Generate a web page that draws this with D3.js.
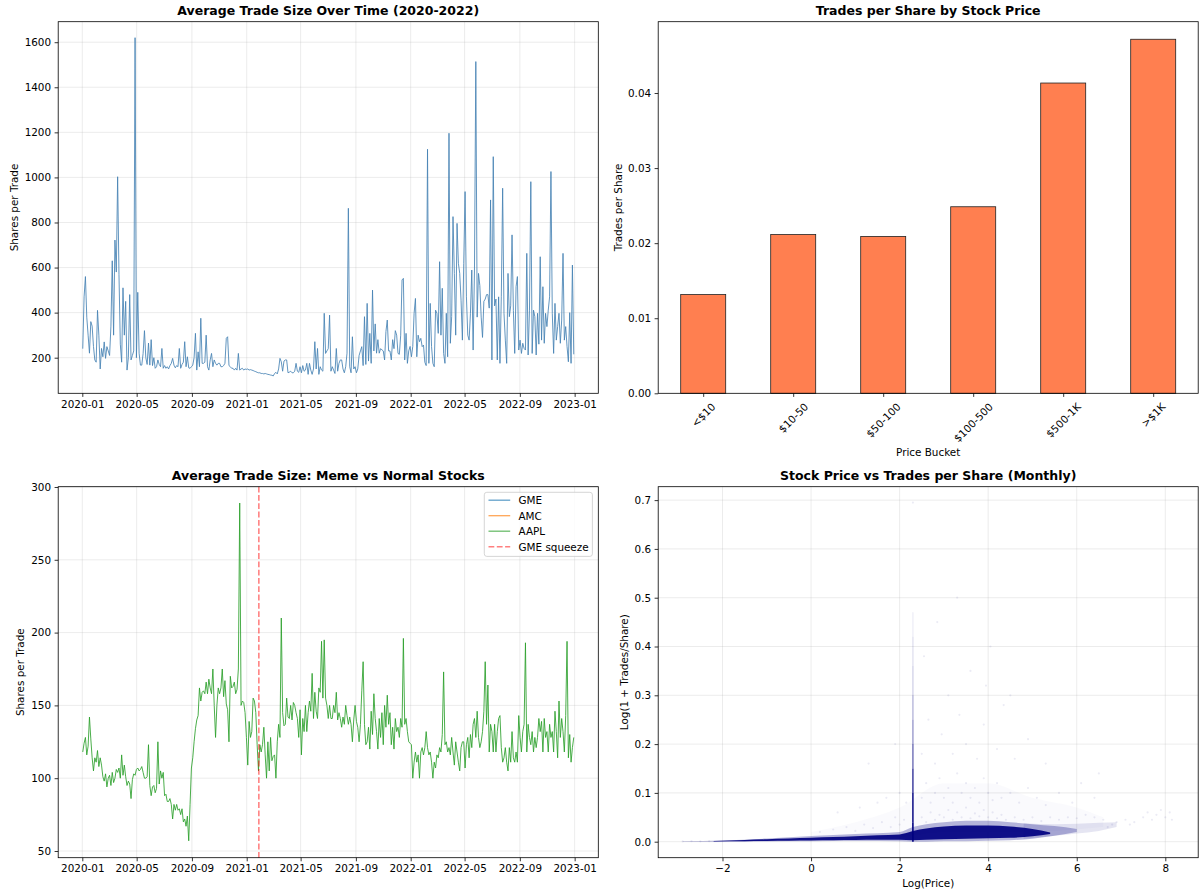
<!DOCTYPE html>
<html><head><meta charset="utf-8">
<script src="https://cdn.jsdelivr.net/npm/d3@7"></script>
<style>body{margin:0;background:#fff} svg{display:block} text{font-family:"DejaVu Sans",sans-serif}</style>
</head><body><svg id="c" width="1200" height="895"></svg>
<script>
// ---------------- DATA ----------------
const seriesStart = "2020-01-02", seriesEnd = "2022-12-30";
const avgTradeSize = [
240,470,560,380,300,220,360,340,250,190,
180,410,300,150,241,204,270,197,249,230,
210,340,630,300,722,580,1003,570,260,180,
510,300,450,145,200,480,190,210,230,1620,
200,490,220,167,167,219,320,200,170,265,
167,280,165,200,153,160,190,170,160,241,
153,165,153,160,150,165,175,197,167,155,
165,160,241,153,170,180,271,160,204,155,
153,160,167,200,308,145,226,160,375,175,
175,180,300,160,145,190,219,160,190,175,
167,175,175,160,160,165,175,286,293,165,
160,153,153,145,153,145,219,145,150,153,145,
150,148,150,145,147,145,143,140,138,135,
133,133,130,130,128,130,128,126,125,123,
122,119,130,135,128,150,197,182,140,185,
190,190,133,136,140,133,133,140,175,140,
135,160,133,165,140,145,175,126,175,145,
126,150,271,150,241,126,160,145,140,397,
219,230,240,389,140,160,145,130,241,140,
175,190,190,150,133,160,220,863,160,133,
293,150,160,133,150,210,230,249,165,382,
170,441,185,308,175,500,230,350,220,280,
220,240,235,230,190,316,367,230,230,190,
280,240,320,300,219,215,300,545,552,190,
308,175,230,
250,204,250,397,463,204,300,271,286,249,
256,180,165,1125,175,441,249,175,160,411,
397,308,626,300,508,219,175,397,204,1196,
264,382,826,574,300,796,619,574,455,278,
619,937,470,300,278,397,589,234,589,1514,
380,574,520,380,290,450,460,480,480,420,
900,190,1092,430,460,190,470,175,470,952,
397,278,175,574,382,430,745,410,219,515,
560,234,278,219,264,241,234,663,212,411,
981,219,411,382,212,397,260,648,278,515,
264,397,338,411,470,1026,397,219,441,278,
338,397,264,367,663,278,338,250,182,400,
175,611,215];

const gmeTradeSize = [];
const amcTradeSize = [];
const aaplTradeSize = [
118,124,128,116,122,142,127,114,105,114,
111,119,108,114,109,101,98,103,94,100,
102,95,104,97,100,106,104,107,100,116,
102,109,101,95,98,96,86,99,103,102,
106,107,105,106,108,104,100,100,101,123,
95,88,94,95,90,93,125,96,105,100,
104,88,89,84,84,86,82,72,82,78,
82,78,79,75,79,70,72,67,74,57,
82,107,114,125,134,140,143,162,153,159,
160,158,166,158,168,162,158,175,150,128,
150,162,158,162,175,156,167,151,147,125,
170,162,163,166,158,161,175,289,150,153,152,
145,128,109,139,128,132,155,153,145,123,
105,123,118,123,135,116,100,125,105,128,
112,115,116,100,125,137,128,210,145,136,
137,155,142,141,150,140,152,150,145,141,
128,147,116,141,132,150,132,145,153,146,
172,141,159,146,141,162,159,194,155,195,
155,150,141,150,141,141,150,145,159,140,
145,141,135,142,137,150,143,137,142,137,
125,140,150,139,135,125,137,160,180,137,
123,125,135,120,146,130,158,141,132,120,
141,128,145,123,150,135,157,137,145,123,
135,120,141,132,135,128,141,135,196,137,
141,132,125,
124,123,100,111,118,111,116,100,118,121,
116,121,132,121,116,118,111,100,111,107,
116,114,121,118,130,173,123,125,118,121,
116,128,118,109,125,118,111,105,121,125,
125,107,123,128,114,130,121,137,141,128,
146,128,121,125,132,146,180,137,164,118,
137,132,118,137,118,132,141,143,121,111,
114,121,111,105,121,111,132,114,111,118,
111,143,128,118,132,137,193,118,137,128,
123,132,118,128,121,128,141,132,139,118,
141,128,132,118,137,128,132,118,146,132,
114,153,128,141,132,118,143,194,114,130,
111,121,128];
const squeezeDate = "2021-01-28";
const legendLabels = ["GME","AMC","AAPL","GME squeeze"];

const priceBuckets = ["<$10","$10-50","$50-100","$100-500","$500-1K",">$1K"];
const tradesPerShare = [0.01315,0.02115,0.0209,0.02485,0.04133,0.04716];

// scatter (Log price vs log(1+trades/share)) : density envelopes + sparse points
const coreX  = [-2.2,-1.5,-1.0,-0.5,0.0,0.5,1.0,1.5,2.0,2.3,2.6,3.0,3.5,4.0,4.5,5.0,5.4];
const coreLo = [0.0006,0.001,0.0015,0.002,0.0025,0.003,0.0035,0.004,0.004,0.003,0.004,0.005,0.006,0.007,0.008,0.011,0.016];
const coreHi = [0.0015,0.0035,0.005,0.0065,0.008,0.0095,0.011,0.013,0.015,0.022,0.027,0.031,0.033,0.033,0.031,0.026,0.019];
const haloX  = [-2.9,-2.0,-1.0,0.0,1.0,2.0,2.3,2.6,3.0,3.5,4.0,4.5,5.0,5.5,6.0];
const haloLo = [0.0,0.0,0.0005,0.001,0.0015,0.001,0.0,0.0,0.001,0.001,0.002,0.003,0.006,0.012,0.02];
const haloHi = [0.0008,0.0025,0.0065,0.0115,0.016,0.02,0.03,0.036,0.04,0.043,0.043,0.04,0.036,0.032,0.026];
const tailX  = [4.8,5.5,6.0,6.5,6.9];
const tailLo = [0.006,0.012,0.017,0.022,0.03];
const tailHi = [0.038,0.036,0.037,0.039,0.04];
const fogX   = [0.0,1.0,2.0,3.0,4.0,5.0,6.0,6.6];
const fogLo  = [0.005,0.008,0.01,0.02,0.02,0.02,0.025,0.03];
const fogHi  = [0.02,0.04,0.07,0.12,0.12,0.09,0.07,0.05];
const spikeX = 2.3;
const spikeY0 = [0.0,0.04,0.1,0.15,0.2,0.25,0.3,0.36,0.42];
const spikeY1 = [0.04,0.1,0.15,0.2,0.25,0.3,0.36,0.42,0.47];
const spikeDensity = [1.0,0.9,0.7,0.5,0.35,0.25,0.15,0.1,0.06];
const sparseX = [0.2,0.5,0.8,1.0,1.2,1.4,1.6,1.8,1.9,2.0,2.1,2.5,2.6,2.7,2.8,2.9,3.0,3.1,3.2,3.3,3.4,3.5,3.6,3.7,3.8,3.9,4.0,4.1,4.2,4.3,4.4,4.6,4.8,5.0,5.2,5.4,5.6,5.8,6.0,6.2,6.4,6.6,
 0.6,1.1,1.5,1.7,2.0,2.15,2.5,2.6,2.7,2.8,2.9,3.0,3.1,3.2,3.3,3.4,3.5,3.6,3.7,3.8,3.9,4.0,4.1,4.2,4.3,4.5,4.7,4.9,5.1,5.3,5.6,5.9,6.1,6.4,6.5,
 1.3,1.9,2.5,2.65,2.8,2.95,3.1,3.2,3.35,3.5,3.6,3.75,3.9,4.05,4.2,4.35,4.6,4.9,5.3,3.3,2.85,3.95,2.55,4.5,
 6.7,6.9,7.1,7.3,7.5,7.6,7.8,7.9,8.0,8.1,8.15,7.7,7.2,6.8,
 -2.9,-2.7,-2.5,-2.3,2.3];
const sparseY = [0.02,0.025,0.03,0.022,0.035,0.028,0.04,0.03,0.05,0.035,0.045,0.05,0.04,0.06,0.045,0.055,0.05,0.065,0.045,0.06,0.05,0.07,0.048,0.058,0.052,0.065,0.05,0.06,0.048,0.055,0.045,0.05,0.045,0.05,0.042,0.05,0.045,0.05,0.048,0.055,0.05,0.045,
 0.06,0.07,0.08,0.09,0.1,0.08,0.09,0.12,0.08,0.1,0.13,0.09,0.11,0.08,0.14,0.1,0.12,0.09,0.11,0.08,0.13,0.1,0.085,0.12,0.09,0.1,0.08,0.11,0.09,0.075,0.1,0.08,0.12,0.09,0.14,
 0.16,0.2,0.18,0.25,0.16,0.22,0.3,0.18,0.26,0.2,0.35,0.17,0.24,0.4,0.19,0.28,0.17,0.21,0.16,0.5,0.45,0.32,0.38,0.3,
 0.03,0.04,0.045,0.04,0.05,0.06,0.055,0.065,0.05,0.06,0.045,0.045,0.035,0.035,
 0.0005,0.001,0.0008,0.001,0.695];

// ---------------- LAYOUT ----------------
const svg = d3.select("#c");
const TL={x0:58.2,x1:598.3,y0:21.7,y1:393.3}, TR={x0:658.2,x1:1198.2,y0:21.7,y1:393.3},
      BL={x0:58.2,x1:598.3,y0:486.7,y1:857.7}, BR={x0:658.2,x1:1198.2,y0:486.7,y1:857.7};
const FS=10.4, TFS=12.5;
const parse=d3.timeParse("%Y-%m-%d");

function datesFor(n){const a=parse(seriesStart).getTime(), b=parse(seriesEnd).getTime();
  return d3.range(n).map(i=>new Date(a+(b-a)*i/(n-1)));}

function clip(id,P){svg.append("clipPath").attr("id",id).append("rect")
  .attr("x",P.x0).attr("y",P.y0).attr("width",P.x1-P.x0).attr("height",P.y1-P.y0);}
function styleAxis(g){g.select(".domain").remove();
  g.attr("font-size",FS).attr("font-family","DejaVu Sans");
  g.selectAll("line").attr("stroke","#000").attr("stroke-width",0.8);
  g.selectAll("text").attr("fill","#000");}
function grid(P,xs,ys,xv,yv){const g=svg.append("g");
  if(xv) g.selectAll(".gx").data(xv).join("line").attr("x1",d=>xs(d)).attr("x2",d=>xs(d))
    .attr("y1",P.y0).attr("y2",P.y1).attr("stroke","#b0b0b0").attr("stroke-opacity",0.3).attr("stroke-width",0.8);
  if(yv) g.selectAll(".gy").data(yv).join("line").attr("y1",d=>ys(d)).attr("y2",d=>ys(d))
    .attr("x1",P.x0).attr("x2",P.x1).attr("stroke","#b0b0b0").attr("stroke-opacity",0.3).attr("stroke-width",0.8);}
function frame(P){svg.append("rect").attr("x",P.x0).attr("y",P.y0).attr("width",P.x1-P.x0).attr("height",P.y1-P.y0)
  .attr("fill","none").attr("stroke","#000").attr("stroke-width",0.8);}
function title(P,t){svg.append("text").attr("x",(P.x0+P.x1)/2).attr("y",P.y0-6.25).attr("text-anchor","middle")
  .attr("font-size",TFS).attr("font-weight","bold").text(t);}
function ylab(x,P,t){svg.append("text").attr("transform",`translate(${x},${(P.y0+P.y1)/2}) rotate(-90)`)
  .attr("text-anchor","middle").attr("dominant-baseline","central").attr("font-size",FS).text(t);}
function xlab(P,y,t){svg.append("text").attr("x",(P.x0+P.x1)/2).attr("y",y).attr("text-anchor","middle")
  .attr("font-size",FS).text(t);}
function axes(P,xs,ys,xt,yt,xf,yf){
  const gx=svg.append("g").attr("transform",`translate(0,${P.y1})`)
    .call(d3.axisBottom(xs).tickValues(xt).tickFormat(xf).tickSize(3.6).tickPadding(3.5).tickSizeOuter(0));
  styleAxis(gx);
  const gy=svg.append("g").attr("transform",`translate(${P.x0},0)`)
    .call(d3.axisLeft(ys).tickValues(yt).tickFormat(yf).tickSize(3.6).tickPadding(3.5).tickSizeOuter(0));
  styleAxis(gy);}

const dateTicks=d3.timeMonth.every(4).range(parse("2020-01-01"),parse("2023-01-02"));
function timeScale(P){const a=parse(seriesStart), b=parse(seriesEnd), m=(b-a)*0.05;
  return d3.scaleTime().domain([new Date(+a-m),new Date(+b+m)]).range([P.x0,P.x1]);}
const fmtDate=d3.timeFormat("%Y-%m");

// ---------------- PANEL 1: avg trade size ----------------
{
  const P=TL; clip("c1",P);
  const x=timeScale(P), y=d3.scaleLinear().domain([42,1691]).range([P.y1,P.y0]);
  const yt=d3.range(200,1601,200);
  grid(P,x,y,dateTicks,yt);
  const d=datesFor(avgTradeSize.length);
  svg.append("path").attr("clip-path","url(#c1)").datum(avgTradeSize)
    .attr("d",d3.line().x((v,i)=>x(d[i])).y(v=>y(v)))
    .attr("fill","none").attr("stroke","steelblue").attr("stroke-width",1).attr("stroke-opacity",0.85)
    .attr("stroke-linejoin","round");
  frame(P); axes(P,x,y,dateTicks,yt,fmtDate,d3.format("d"));
  title(P,"Average Trade Size Over Time (2020-2022)");
  ylab(13.8,P,"Shares per Trade");
}

// ---------------- PANEL 2: bars ----------------
{
  const P=TR;
  const x=d3.scaleLinear().domain([-0.5,5.5]).range([P.x0,P.x1]);
  const y=d3.scaleLinear().domain([0,0.0495]).range([P.y1,P.y0]);
  const bw=(x(0.5)-x(0));
  svg.append("g").selectAll("rect").data(tradesPerShare).join("rect")
    .attr("x",(v,i)=>x(i)-bw/2).attr("width",bw).attr("y",v=>y(v)).attr("height",v=>y(0)-y(v))
    .attr("fill","#FF7F50").attr("stroke","#222").attr("stroke-width",0.8);
  frame(P);
  const gx=svg.append("g").attr("transform",`translate(0,${P.y1})`)
    .call(d3.axisBottom(x).tickValues(d3.range(priceBuckets.length)).tickFormat("").tickSize(3.6).tickSizeOuter(0));
  styleAxis(gx);
  svg.append("g").selectAll("text").data(priceBuckets).join("text")
    .attr("font-size",FS).text(t=>t)
    .each(function(t,i){
      const w=this.getComputedTextLength(), h=FS*1.16, Hh=(w+h)*Math.SQRT1_2;
      d3.select(this).attr("text-anchor","middle").attr("dominant-baseline","central")
        .attr("transform",`translate(${x(i)},${P.y1+7.1+Hh/2}) rotate(-45)`);
    });
  const gy=svg.append("g").attr("transform",`translate(${P.x0},0)`)
    .call(d3.axisLeft(y).tickValues([0,0.01,0.02,0.03,0.04]).tickFormat(d3.format(".2f")).tickSize(3.6).tickPadding(3.5).tickSizeOuter(0));
  styleAxis(gy);
  title(P,"Trades per Share by Stock Price");
  xlab(P,456,"Price Bucket");
  ylab(617.6,P,"Trades per Share");
}

// ---------------- PANEL 3: meme vs normal ----------------
{
  const P=BL; clip("c3",P);
  const x=timeScale(P), y=d3.scaleLinear().domain([45.4,300.2]).range([P.y1,P.y0]);
  const yt=d3.range(50,301,50);
  grid(P,x,y,dateTicks,yt);
  const colors=["#1f77b4","#ff7f0e","#2ca02c"];
  [gmeTradeSize,amcTradeSize,aaplTradeSize].forEach((s,k)=>{
    if(!s.length) return;
    const d=datesFor(s.length);
    svg.append("path").attr("clip-path","url(#c3)").datum(s)
      .attr("d",d3.line().x((v,i)=>x(d[i])).y(v=>y(v)))
      .attr("fill","none").attr("stroke",colors[k]).attr("stroke-width",1).attr("stroke-opacity",0.85)
      .attr("stroke-linejoin","round");
  });
  const sx=x(parse(squeezeDate));
  svg.append("line").attr("x1",sx).attr("x2",sx).attr("y1",P.y0).attr("y2",P.y1)
    .attr("stroke","red").attr("stroke-opacity",0.5).attr("stroke-width",1.56).attr("stroke-dasharray","5.8,2.5");
  frame(P); axes(P,x,y,dateTicks,yt,fmtDate,d3.format("d"));
  title(P,"Average Trade Size: Meme vs Normal Stocks");
  ylab(20,P,"Shares per Trade");
  // legend
  const L={x:484.3,y:492.3,w:108.1,h:64.1};
  svg.append("rect").attr("x",L.x).attr("y",L.y).attr("width",L.w).attr("height",L.h).attr("rx",2.5)
    .attr("fill","#fff").attr("fill-opacity",0.8).attr("stroke","#ccc").attr("stroke-width",0.8);
  const lg=svg.append("g").selectAll("g").data(legendLabels).join("g")
    .attr("transform",(t,i)=>`translate(0,${500.2+i*15.5})`);
  lg.append("line").attr("x1",488.5).attr("x2",510.2).attr("y1",0).attr("y2",0)
    .attr("stroke",(t,i)=>i<3?colors[i]:"red").attr("stroke-opacity",(t,i)=>i<3?0.7:0.5)
    .attr("stroke-width",(t,i)=>i<3?1.3:1.56).attr("stroke-dasharray",(t,i)=>i<3?null:"5.8,2.5");
  lg.append("text").attr("x",518.5).attr("y",0).attr("dominant-baseline","central").attr("font-size",FS).text(t=>t);
}

// ---------------- PANEL 4: scatter ----------------
{
  const P=BR; clip("c4",P);
  const x=d3.scaleLinear().domain([-3.452,8.743]).range([P.x0,P.x1]);
  const y=d3.scaleLinear().domain([-0.0328,0.7275]).range([P.y1,P.y0]);
  const xt=[-2,0,2,4,6,8], yt=[0,0.1,0.2,0.3,0.4,0.5,0.6,0.7];
  grid(P,x,y,xt,yt);
  const g=svg.append("g").attr("clip-path","url(#c4)");
  const navy="#000080";
  const area=(X,Lo,Hi)=>d3.area().curve(d3.curveMonotoneX).x((v,i)=>x(X[i])).y0((v,i)=>y(Lo[i])).y1((v,i)=>y(Hi[i]))(X);
  g.append("path").attr("d",area(fogX,fogLo,fogHi)).attr("fill",navy).attr("fill-opacity",0.018);
  g.selectAll(".sp").data(sparseX).join("circle").attr("cx",v=>x(v)).attr("cy",(v,i)=>y(sparseY[i]))
    .attr("r",1.1).attr("fill",navy).attr("fill-opacity",0.08);
  g.append("path").attr("d",area(tailX,tailLo,tailHi)).attr("fill",navy).attr("fill-opacity",0.1);
  g.append("path").attr("d",area(haloX,haloLo,haloHi)).attr("fill",navy).attr("fill-opacity",0.28);
  g.append("path").attr("d",area(coreX,coreLo,coreHi)).attr("fill",navy).attr("fill-opacity",0.92);
  g.selectAll(".sk").data(spikeDensity).join("line").attr("x1",x(spikeX)).attr("x2",x(spikeX))
    .attr("y1",(v,i)=>y(spikeY0[i])).attr("y2",(v,i)=>y(spikeY1[i]))
    .attr("stroke",navy).attr("stroke-opacity",v=>v).attr("stroke-width",1.6);
  frame(P);
  axes(P,x,y,xt,yt,d=>d<0?"\u2212"+Math.abs(d):String(d),d3.format(".1f"));
  title(P,"Stock Price vs Trades per Share (Monthly)");
  xlab(P,887,"Log(Price)");
  ylab(623.8,P,"Log(1 + Trades/Share)");
}
</script></body></html>
